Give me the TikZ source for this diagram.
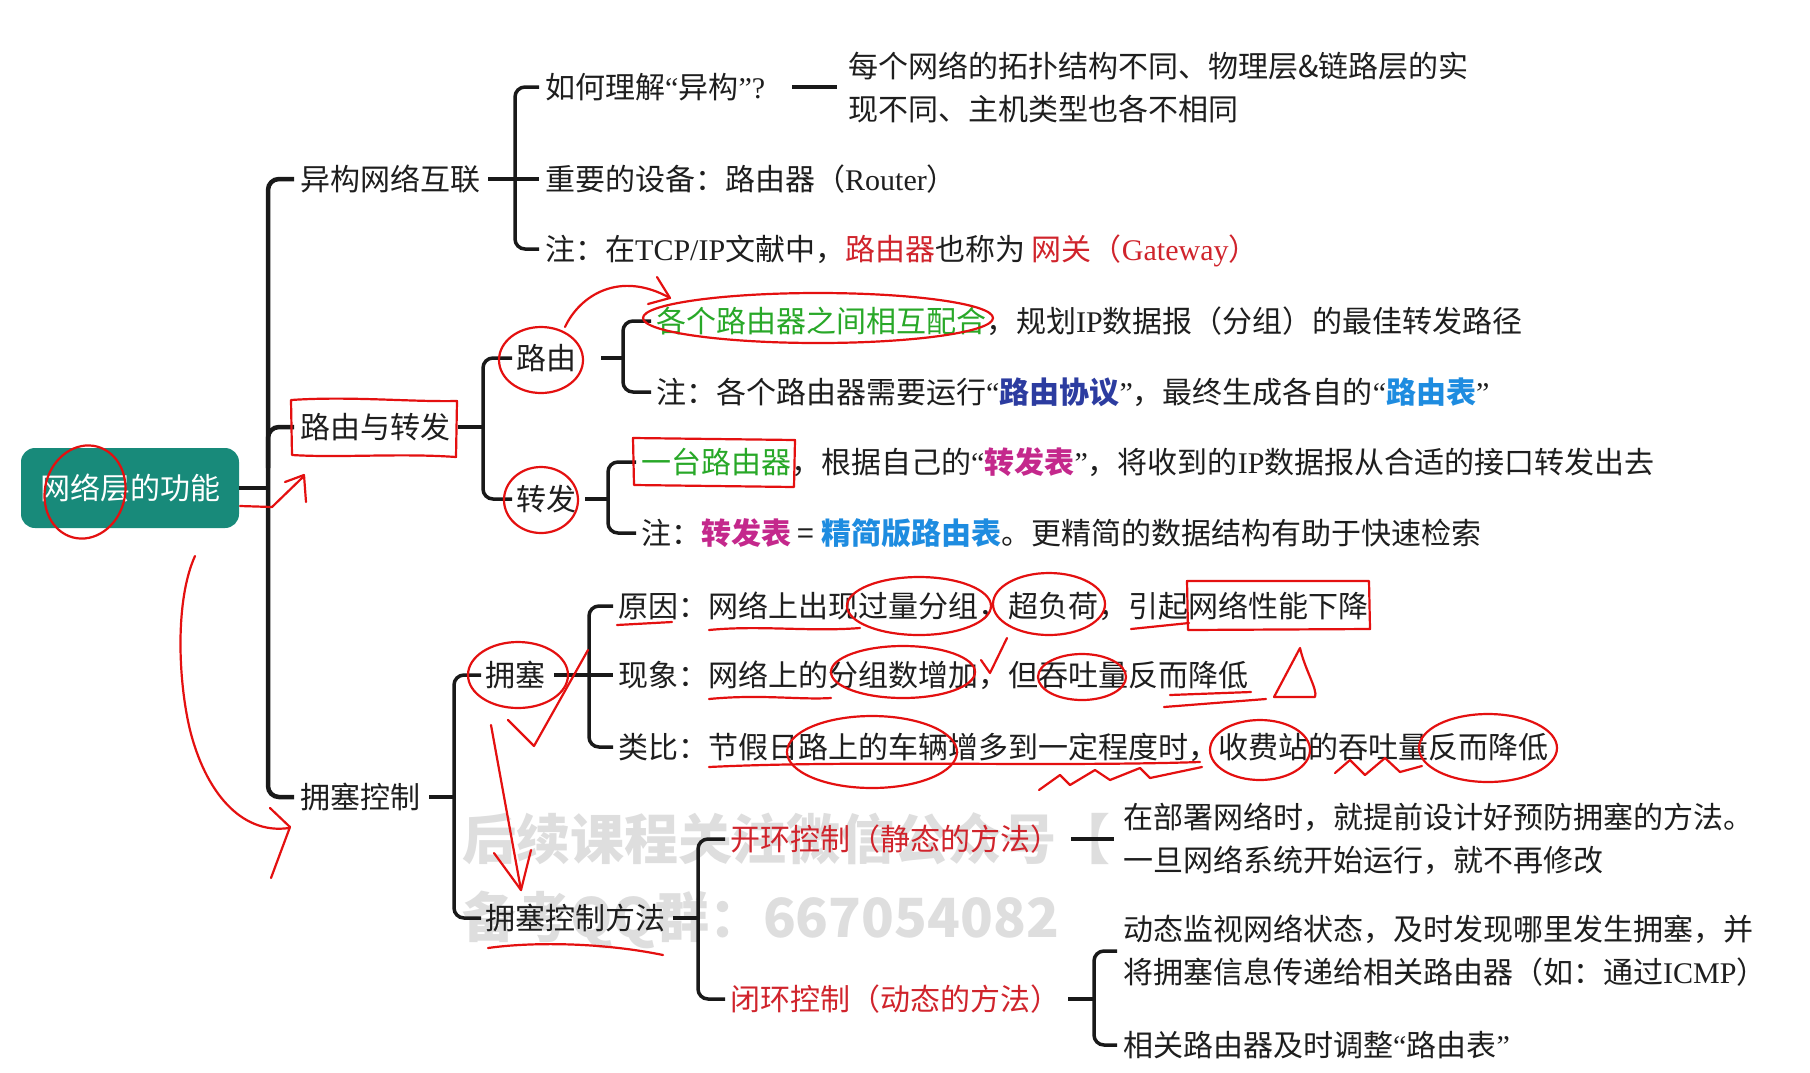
\documentclass[tikz,border=0pt]{standalone}
\usepackage{fontspec}
\setmainfont{Noto Sans CJK SC}
\newfontfamily\lat{Liberation Serif}
\usetikzlibrary{arrows.meta,calc}
\newcommand\myoq{{\lat “}}
\newcommand\mycq{{\lat ”}}
\definecolor{teal0}{RGB}{24,138,122}
\definecolor{ink}{RGB}{30,30,30}
\definecolor{rd}{RGB}{208,36,44}
\definecolor{grn}{RGB}{40,168,40}
\definecolor{dblue}{RGB}{44,60,160}
\definecolor{lblue}{RGB}{30,140,224}
\definecolor{mag}{RGB}{196,40,140}
\definecolor{annred}{RGB}{228,16,16}
\definecolor{wmgray}{RGB}{222,222,222}
\begin{document}
\begin{tikzpicture}[x=1pt,y=-1pt,
  txt/.style={anchor=west, inner sep=0pt, font=\fontsize{30}{36}\selectfont, text=ink, text height=27pt, text depth=5pt},
  txttwo/.style={anchor=west, inner sep=0pt, font=\fontsize{30}{43}\selectfont, text=ink, align=left},
  rootbox/.style={fill=teal0, text=white, rounded corners=14pt, minimum width=218pt, minimum height=80pt, inner sep=0pt, font=\fontsize{30}{36}\selectfont},
  wm/.style={anchor=west, inner sep=0pt, font=\fontsize{54}{60}\selectfont\bfseries, text=wmgray},
  br/.style={line width=3.5pt, draw=black!90, rounded corners=10pt},
  trunk/.style={line width=4.5pt, draw=black!90, rounded corners=11pt},
  ann/.style={draw=annred, line width=2.2pt, line cap=round, line join=round}]
\useasboundingbox (0,0) rectangle (1810,1072);
\fill[white] (0,0) rectangle (1810,1072);

% watermark (behind the diagram)
\node[wm] (wm1) at (462,839) {后续课程关注微信公众号【};
\node[wm] (wm2) at (462,920) {备考QQ群：667054082};

% nodes
\node[rootbox] (root) at (130,488) {网络层的功能};
\node[txt] (a) at (300,179) {异构网络互联};
\node[txt] (b) at (300,427) {路由与转发};
\node[txt] (c) at (300,797) {拥塞控制};

\node[txt] (a1) at (545,87) {如何理解\myoq 异构{\lat ”?}};
\node[txttwo] (a1t) at (848,87) {每个网络的拓扑结构不同、物理层\&链路层的实\\现不同、主机类型也各不相同};
\node[txt] (a2) at (545,179) {重要的设备：路由器（{\lat Router}）};
\node[txt] (a3) at (545,249) {注：在{\lat TCP/IP}文献中，{\color{rd}路由器}也称为 {\color{rd}网关（{\lat Gateway}）}};

\node[txt] (b1) at (516,358) {路由};
\node[txt] (b2) at (516,499) {转发};
\node[txt] (b11) at (656,321) {{\color{grn}各个路由器之间相互配合}，规划{\lat IP}数据报（分组）的最佳转发路径};
\node[txt] (b12) at (656,392) {注：各个路由器需要运行\myoq{\bfseries\color{dblue}路由协议}\mycq，最终生成各自的\myoq{\bfseries\color{lblue}路由表}\mycq};
\node[txt] (b21) at (641,462) {{\color{grn}一台路由器}，根据自己的\myoq{\bfseries\color{mag}转发表}\mycq，将收到的{\lat IP}数据报从合适的接口转发出去};
\node[txt] (b22) at (641,533) {注：{\bfseries\color{mag}转发表} = {\bfseries\color{lblue}精简版路由表}。更精简的数据结构有助于快速检索};

\node[txt] (c1) at (485,675) {拥塞};
\node[txt] (c2) at (485,918) {拥塞控制方法};
\node[txt] (c11) at (618,606) {原因：网络上出现过量分组，超负荷，引起网络性能下降};
\node[txt] (c12) at (618,675) {现象：网络上的分组数增加，但吞吐量反而降低};
\node[txt] (c13) at (618,747) {类比：节假日路上的车辆增多到一定程度时，收费站的吞吐量反而降低};
\node[txt,text=rd] (c21) at (730,839) {开环控制（静态的方法）};
\node[txt,text=rd] (c22) at (730,999) {闭环控制（动态的方法）};
\node[txttwo] (c21t) at (1123,839) {在部署网络时，就提前设计好预防拥塞的方法。\\一旦网络系统开始运行，就不再修改};
\node[txttwo] (c221) at (1123,951) {动态监视网络状态，及时发现哪里发生拥塞，并\\将拥塞信息传递给相关路由器（如：通过{\lat ICMP}）};
\node[txt] (c222) at (1123,1045) {相关路由器及时调整\myoq 路由表\mycq};

% junction points
\coordinate (T) at (268,488);
\coordinate (Tb) at (268,468);
\coordinate (A) at (515,179);
\coordinate (B) at (483,427);
\coordinate (B1) at (623,358);
\coordinate (B2) at (608,499);
\coordinate (C) at (454,797);
\coordinate (C1) at (589,675);
\coordinate (C2) at (698,918);
\coordinate (C22) at (1094,999);

% connectors
\draw[trunk] (root.east) -- (T);
\draw[trunk] ([xshift=-6pt]a.west) -| (T) |- ([xshift=-6pt]c.west);
\draw[trunk] ([xshift=-6pt]b.west) -| (Tb);

\draw[br] ([xshift=-6pt]a1.west) -| (A) |- ([xshift=-6pt]a3.west);
\draw[br] ([xshift=8pt]a.east) -- ([xshift=-6pt]a2.west);
\draw[line width=4.5pt, draw=black!90] ([xshift=27pt]a1.east) -- ([xshift=-11pt]a1t.west);

\draw[br] ([xshift=-4pt]b1.west) -| (B) |- ([xshift=-4pt]b2.west);
\draw[br] ([xshift=8pt]b.east) -- (B);
\draw[br] ([xshift=-5pt]b11.west) -| (B1) |- ([xshift=-5pt]b12.west);
\draw[br] ([xshift=25pt]b1.east) -- (B1);
\draw[br] ([xshift=-5pt]b21.west) -| (B2) |- ([xshift=-5pt]b22.west);
\draw[br] ([xshift=9pt]b2.east) -- (B2);

\draw[br] ([xshift=-4pt]c1.west) -| (C) |- ([xshift=-4pt]c2.west);
\draw[br] ([xshift=9pt]c.east) -- (C);
\draw[br] ([xshift=-5pt]c11.west) -| (C1) |- ([xshift=-5pt]c13.west);
\draw[br] ([xshift=9pt]c1.east) -- ([xshift=-5pt]c12.west);
\draw[br] ([xshift=-5pt]c21.west) -| (C2) |- ([xshift=-5pt]c22.west);
\draw[br] ([xshift=8pt]c2.east) -- (C2);
\draw[line width=4pt, draw=black!90] ([xshift=11pt]c21.east) -- ([xshift=-9pt]c21t.west);
\draw[br] ([xshift=-6pt]c221.west) -| (C22) |- ([xshift=-6pt]c222.west);
\draw[br] ([xshift=8pt]c22.east) -- (C22);

% hand-drawn red annotations
\draw[ann, rotate around={-15:(85,492)}] (85,492) ellipse [x radius=40, y radius=47];
\draw[ann] (240,506) -- (272,507) -- (303,477);
\draw[ann] (285,482) -- (304,475) -- (306,502);
\draw[ann] (291,400) .. controls (350,396) and (410,402) .. (457,401) -- (456,457) .. controls (400,453) and (340,458) .. (292,455) -- cycle;
\draw[ann] (541,360) ellipse [x radius=42, y radius=33];
\draw[ann] (565,327) .. controls (580,295) and (620,270) .. (670,298);
\draw[ann] (648,304) -- (670,298) -- (657,277);
\draw[ann] (818,318) ellipse [x radius=175, y radius=25];
\draw[ann] (541,500) ellipse [x radius=37, y radius=33];
\draw[ann] (633,438) -- (795,440) -- (794,487) -- (634,485) -- cycle;
\draw[ann] (195,556) .. controls (175,600) and (178,680) .. (190,730) .. controls (205,790) and (240,835) .. (289,828);
\draw[ann] (270,808) -- (290,827) -- (271,878);
\draw[ann] (518,675) ellipse [x radius=50, y radius=33];
\draw[ann] (508,720) -- (534,746) -- (588,650);
\draw[ann] (491,725) -- (521,890);
\draw[ann] (494,853) -- (521,890) -- (531,850);
\draw[ann] (488,948) .. controls (530,942) and (600,942) .. (663,955);
\draw[ann] (617,625) -- (672,622);
\draw[ann] (709,630) .. controls (760,625) and (810,632) .. (860,628);
\draw[ann] (919,606) ellipse [x radius=72, y radius=29];
\draw[ann] (1049,604) ellipse [x radius=56, y radius=31];
\draw[ann] (1131,629) -- (1189,623);
\draw[ann] (1187,581) -- (1369,581) -- (1370,629) -- (1188,630) -- cycle;
\draw[ann] (709,699) .. controls (760,694) and (800,700) .. (831,698);
\draw[ann] (903,672) ellipse [x radius=72, y radius=26];
\draw[ann] (981,660) -- (990,673) -- (1007,638);
\draw[ann] (1082,677) ellipse [x radius=44, y radius=23];
\draw[ann] (1170,695) -- (1251,692);
\draw[ann] (1164,707) -- (1266,699);
\draw[ann] (1274,697) -- (1300,648) .. controls (1305,670) and (1318,690) .. (1315,697) -- cycle;
\draw[ann] (709,767) .. controls (850,760) and (1050,767) .. (1200,762);
\draw[ann] (1039,790) -- (1060,775) -- (1070,785) -- (1095,770) -- (1110,780) -- (1140,768) -- (1150,778) -- (1202,767);
\draw[ann] (872,752) ellipse [x radius=85, y radius=36];
\draw[ann] (1260,750) ellipse [x radius=50, y radius=30];
\draw[ann] (1335,773) -- (1350,760) -- (1365,775) -- (1385,758) -- (1400,772) -- (1422,766);
\draw[ann] (1488,748) ellipse [x radius=69, y radius=34];
\end{tikzpicture}
\end{document}
